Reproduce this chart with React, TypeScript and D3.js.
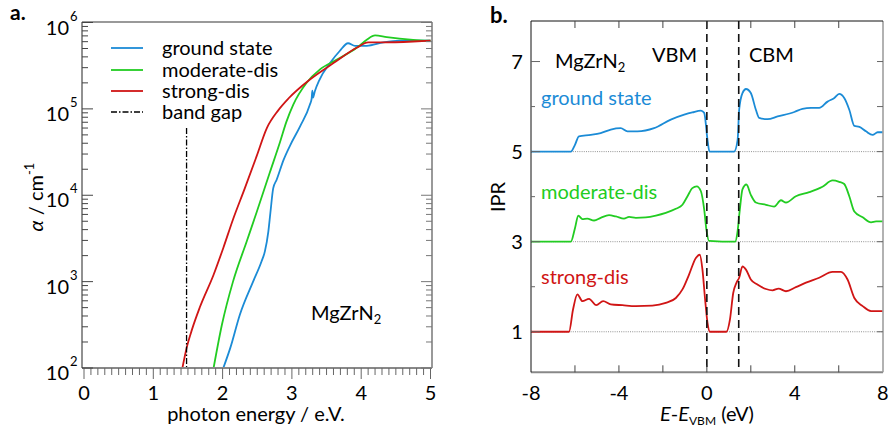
import React from "react";
import * as d3 from "d3";

// ---------- Panel a data: [photon energy (eV), log10(alpha / cm^-1)] ----------
const groundStateA: [number, number][] = [
  [2.01, 2.0], [2.11, 2.23], [2.25, 2.62], [2.44, 3.0], [2.56, 3.23], [2.61, 3.35],
  [2.66, 3.58], [2.69, 3.8], [2.73, 4.08], [2.78, 4.18], [2.88, 4.41], [2.97, 4.57],
  [3.12, 4.8], [3.26, 5.05], [3.285, 5.12], [3.295, 5.21], [3.305, 5.13], [3.33, 5.2],
  [3.4, 5.34], [3.55, 5.53], [3.69, 5.67], [3.81, 5.76], [3.91, 5.73], [4.08, 5.73],
  [4.32, 5.77], [4.56, 5.79], [5.0, 5.79],
];
const moderateDisA: [number, number][] = [
  [1.87, 2.0], [1.99, 2.5], [2.15, 3.0], [2.35, 3.47], [2.49, 3.8], [2.68, 4.26],
  [2.83, 4.62], [2.92, 4.85], [3.02, 5.05], [3.21, 5.3], [3.41, 5.46], [3.65, 5.57],
  [3.94, 5.71], [4.08, 5.8], [4.2, 5.85], [4.37, 5.83], [4.75, 5.8], [5.0, 5.79],
];
const strongDisA: [number, number][] = [
  [1.42, 2.0], [1.48, 2.23], [1.56, 2.45], [1.67, 2.7], [1.87, 3.08], [2.01, 3.39],
  [2.15, 3.72], [2.32, 4.08], [2.49, 4.45], [2.64, 4.78], [2.8, 4.98], [2.95, 5.12],
  [3.26, 5.34], [3.6, 5.53], [3.94, 5.71], [4.1, 5.77], [4.3, 5.77], [4.75, 5.78],
  [5.0, 5.79],
];
const bandGap = 1.48;
const xTicksA = [0, 1, 2, 3, 4, 5];
const yDecadesA = [2, 3, 4, 5, 6];
const legendA = ["ground state", "moderate-dis", "strong-dis", "band gap"];

// ---------- Panel b data: [E - E_VBM (eV), IPR (offset)] ----------
const groundStateB: [number, number][] = [
  [-8, 5], [-6.19, 5], [-6.0, 5.15], [-5.82, 5.34], [-5.28, 5.37], [-4.83, 5.41],
  [-4.37, 5.49], [-3.92, 5.52], [-3.61, 5.45], [-3.16, 5.45], [-2.4, 5.52],
  [-1.64, 5.71], [-1.03, 5.82], [-0.66, 5.87], [-0.27, 5.91], [-0.12, 5.86],
  [0.03, 5.26], [0.12, 5.0], [1.24, 5.0], [1.4, 5.26], [1.47, 5.93], [1.62, 6.3],
  [1.78, 6.39], [2.0, 6.3], [2.23, 5.93], [2.38, 5.75], [2.76, 5.72], [3.22, 5.78],
  [3.98, 5.88], [4.35, 5.95], [4.74, 5.97], [5.11, 5.97], [5.49, 6.11], [5.8, 6.19],
  [6.02, 6.28], [6.25, 6.19], [6.48, 5.93], [6.71, 5.57], [6.94, 5.55], [7.24, 5.45],
  [7.54, 5.37], [7.77, 5.43], [8.0, 5.43],
];
const moderateDisB: [number, number][] = [
  [-8, 3], [-6.19, 3], [-6.0, 3.3], [-5.85, 3.58], [-5.66, 3.5], [-5.44, 3.51],
  [-5.13, 3.47], [-4.83, 3.53], [-4.45, 3.59], [-4.14, 3.56], [-3.77, 3.51],
  [-3.54, 3.55], [-3.23, 3.53], [-2.78, 3.54], [-2.32, 3.58], [-1.87, 3.64],
  [-1.41, 3.73], [-1.11, 3.82], [-0.88, 4.01], [-0.66, 4.19], [-0.46, 4.23],
  [-0.27, 4.12], [-0.12, 3.71], [-0.02, 3.27], [0.1, 3.02], [1.29, 3.0], [1.39, 3.2],
  [1.5, 3.71], [1.62, 4.16], [1.8, 4.27], [2.0, 4.04], [2.23, 3.87], [2.69, 3.82],
  [3.06, 3.78], [3.37, 3.92], [3.6, 3.87], [4.05, 4.01], [4.66, 4.1], [5.26, 4.22],
  [5.72, 4.36], [6.02, 4.33], [6.25, 4.28], [6.48, 4.01], [6.71, 3.67], [7.09, 3.54],
  [7.47, 3.43], [7.7, 3.45], [8.0, 3.45],
];
const strongDisB: [number, number][] = [
  [-8, 1], [-6.27, 1], [-6.09, 1.49], [-5.89, 1.83], [-5.66, 1.68], [-5.36, 1.73],
  [-5.03, 1.59], [-4.72, 1.68], [-4.37, 1.61], [-3.84, 1.59], [-3.23, 1.57],
  [-2.48, 1.58], [-1.87, 1.64], [-1.41, 1.75], [-1.11, 1.94], [-0.81, 2.27],
  [-0.5, 2.64], [-0.32, 2.71], [-0.2, 2.38], [-0.08, 1.72], [0.03, 1.2], [0.14, 1.0],
  [0.89, 1.0], [1.05, 1.27], [1.2, 1.86], [1.35, 2.09], [1.47, 2.2], [1.62, 2.45],
  [1.78, 2.38], [2.0, 2.16], [2.3, 2.05], [2.69, 1.95], [2.99, 1.92], [3.26, 1.96],
  [3.6, 1.9], [4.05, 1.99], [4.51, 2.09], [5.11, 2.2], [5.72, 2.33], [6.1, 2.33],
  [6.4, 2.16], [6.71, 1.75], [7.09, 1.57], [7.47, 1.46], [8.0, 1.46],
];
const baselinesB = [5, 3, 1];
const edgesB = [0, 1.45];
const xTicksB = [-8, -4, 0, 4, 8];
const yTicksB = [1, 3, 5, 7];
const seriesLabelsB = ["ground state", "moderate-dis", "strong-dis"];

const BLUE = "#1b8bd6";
const GREEN = "#22cc22";
const RED = "#d01515";
const FONT = "Lato, 'Open Sans', sans-serif";

export default function App() {
  // Panel a scales
  const xA = d3.scaleLinear().domain([0, 5]).range([84, 430.5]);
  const yA = d3.scaleLog().domain([1e2, 1e6]).range([368, 22.5]);
  const lineA = d3
    .line<[number, number]>()
    .x((d) => xA(d[0]))
    .y((d) => yA(Math.pow(10, d[1])))
    .curve(d3.curveMonotoneX);

  // Panel b scales
  const xB = d3.scaleLinear().domain([-8, 8]).range([531, 882.7]);
  const yB = d3.scaleLinear().domain([0.1, 7.9]).range([372.3, 21]);
  const lineB = d3
    .line<[number, number]>()
    .x((d) => xB(d[0]))
    .y((d) => yB(d[1]))
    .curve(d3.curveMonotoneX);

  const aL = 82, aR = 432, aT = 22, aB = 368;
  const bL = 531, bR = 883, bT = 21, bB = 372.3;

  const minorX = d3.range(0, 50.5, 1).map((i) => i / 10);
  const logTicks: { v: number; major: boolean }[] = [];
  for (let e = 2; e < 6; e++) {
    for (let m = 1; m < 10; m++) logTicks.push({ v: m * Math.pow(10, e), major: m === 1 });
  }
  logTicks.push({ v: 1e6, major: true });

  const seriesA = [
    { d: groundStateA, c: BLUE },
    { d: moderateDisA, c: GREEN },
    { d: strongDisA, c: RED },
  ];
  const seriesB = [
    { d: groundStateB, c: BLUE },
    { d: moderateDisB, c: GREEN },
    { d: strongDisB, c: RED },
  ];
  const legendColors = [BLUE, GREEN, RED, "#000"];
  const legendY = [48, 70, 91, 112];
  const labelYB = [105, 199, 284];

  return (
    <svg
      width={889}
      height={431}
      style={{ position: "absolute", left: 0, top: 0, background: "#fff" }}
      fontFamily={FONT}
    >
      {/* ================= Panel a ================= */}
      <text x={10} y={20} fontSize={21} fontWeight="bold">a.</text>

      <defs>
        <clipPath id="clipA">
          <rect x={aL} y={aT} width={aR - aL} height={aB - aT} />
        </clipPath>
      </defs>
      <g clipPath="url(#clipA)">
        {seriesA.map((s, i) => (
          <path key={i} d={lineA(s.d) || ""} fill="none" stroke={s.c} strokeWidth={1.8} />
        ))}
      </g>
      <line
        x1={xA(bandGap)} x2={xA(bandGap)} y1={128} y2={aB}
        stroke="#000" strokeWidth={1.3} strokeDasharray="6,2,1.5,2"
      />

      {/* frame */}
      <line x1={aL} x2={aR} y1={aT} y2={aT} stroke="#999" strokeWidth={2} />
      <line x1={aR} x2={aR} y1={aT} y2={aB} stroke="#999" strokeWidth={2} />
      <line x1={aL} x2={aR} y1={aB} y2={aB} stroke="#888" strokeWidth={2} />
      <line x1={aL} x2={aL} y1={aT} y2={aB} stroke="#222" strokeWidth={1} />

      {/* x ticks (outside, downward) */}
      {minorX.map((v, i) => {
        const major = i % 10 === 0;
        return (
          <line key={"xa" + i} x1={xA(v)} x2={xA(v)} y1={aB} y2={aB + (major ? 11 : 7)}
            stroke="#666" strokeWidth={1} />
        );
      })}
      {xTicksA.map((v) => (
        <text key={"xl" + v} x={xA(v)} y={400} fontSize={20} textAnchor="middle">{v}</text>
      ))}
      <text x={256} y={421} fontSize={20} textAnchor="middle">photon energy / e.V.</text>

      {/* y ticks (inside, both sides) */}
      {logTicks.map((t, i) => (
        <g key={"ya" + i}>
          <line x1={aL} x2={aL + (t.major ? 11 : 6)} y1={yA(t.v)} y2={yA(t.v)} stroke="#444" strokeWidth={1} />
          <line x1={aR} x2={aR - (t.major ? 11 : 6)} y1={yA(t.v)} y2={yA(t.v)} stroke="#777" strokeWidth={1} />
        </g>
      ))}
      {yDecadesA.map((e) => {
        const y = yA(Math.pow(10, e));
        return (
          <g key={"yl" + e}>
            <text x={69} y={y + 12} fontSize={20} textAnchor="end">10</text>
            <text x={70} y={y - 2} fontSize={13}>{e}</text>
          </g>
        );
      })}
      <g transform="translate(43,197) rotate(-90)">
        <text fontSize={20} textAnchor="middle">
          <tspan fontStyle="italic">α</tspan>
          <tspan> / cm</tspan>
          <tspan fontSize={13} dy={-9}>-1</tspan>
        </text>
      </g>

      {/* legend */}
      {legendA.map((name, i) => (
        <g key={"lg" + i}>
          <line x1={111} x2={143} y1={legendY[i]} y2={legendY[i]} stroke={legendColors[i]}
            strokeWidth={i === 3 ? 1.3 : 1.8} strokeDasharray={i === 3 ? "6,2,1.5,2" : undefined} />
          <text x={162} y={legendY[i] + 7} fontSize={20}>{name}</text>
        </g>
      ))}

      <text x={311} y={320} fontSize={20}>
        MgZrN<tspan fontSize={13} dy={4}>2</tspan>
      </text>

      {/* ================= Panel b ================= */}
      <text x={490} y={23} fontSize={22} fontWeight="bold">b.</text>

      {baselinesB.map((v) => (
        <line key={"bl" + v} x1={bL} x2={bR} y1={yB(v)} y2={yB(v)} stroke="#777"
          strokeWidth={0.8} strokeDasharray="1,1.2" />
      ))}

      {seriesB.map((s, i) => (
        <path key={"sb" + i} d={lineB(s.d) || ""} fill="none" stroke={s.c} strokeWidth={1.8} />
      ))}

      {edgesB.map((v) => (
        <line key={"ed" + v} x1={xB(v)} x2={xB(v)} y1={bT} y2={bB} stroke="#111"
          strokeWidth={1.6} strokeDasharray="8,5" />
      ))}

      {/* frame */}
      <line x1={bL} x2={bR} y1={bB} y2={bB} stroke="#888" strokeWidth={2} />
      <line x1={bR} x2={bR} y1={bT} y2={bB} stroke="#999" strokeWidth={1.5} />
      <line x1={bL} x2={bR} y1={bT} y2={bT} stroke="#111" strokeWidth={1} />
      <line x1={bL} x2={bL} y1={bT} y2={bB} stroke="#111" strokeWidth={1} />

      {d3.range(-6, 7, 2).map((v) => (
        <g key={"tb" + v}>
          <line x1={xB(v)} x2={xB(v)} y1={bB} y2={bB - 7} stroke="#444" strokeWidth={1} />
          <line x1={xB(v)} x2={xB(v)} y1={bT} y2={bT + 7} stroke="#444" strokeWidth={1} />
        </g>
      ))}
      {d3.range(1, 8, 1).map((v) => (
        <g key={"ty" + v}>
          <line x1={bL} x2={bL + (v % 2 === 1 ? 9 : 4)} y1={yB(v)} y2={yB(v)} stroke="#666" strokeWidth={1} />
          <line x1={bR} x2={bR - 6} y1={yB(v)} y2={yB(v)} stroke="#666" strokeWidth={1} />
        </g>
      ))}
      {xTicksB.map((v) => (
        <text key={"xbl" + v} x={xB(v)} y={400} fontSize={20} textAnchor="middle">{v}</text>
      ))}
      {yTicksB.map((v) => (
        <text key={"ybl" + v} x={517} y={yB(v) + 7} fontSize={20} textAnchor="middle">{v}</text>
      ))}

      <text x={707} y={421} fontSize={20} textAnchor="middle">
        <tspan fontStyle="italic">E</tspan>
        <tspan>-</tspan>
        <tspan fontStyle="italic">E</tspan>
        <tspan fontSize={12} dy={4}>VBM</tspan>
        <tspan dy={-4}> (eV)</tspan>
      </text>
      <g transform="translate(505,197) rotate(-90)">
        <text fontSize={20} textAnchor="middle">IPR</text>
      </g>

      <text x={555} y={68} fontSize={20}>
        MgZrN<tspan fontSize={13} dy={4}>2</tspan>
      </text>
      <text x={652} y={61.5} fontSize={20}>VBM</text>
      <text x={749} y={61.5} fontSize={20}>CBM</text>

      {seriesLabelsB.map((name, i) => (
        <text key={"slb" + i} x={541} y={labelYB[i]} fontSize={20} fill={[BLUE, GREEN, RED][i]}>
          {name}
        </text>
      ))}
    </svg>
  );
}
